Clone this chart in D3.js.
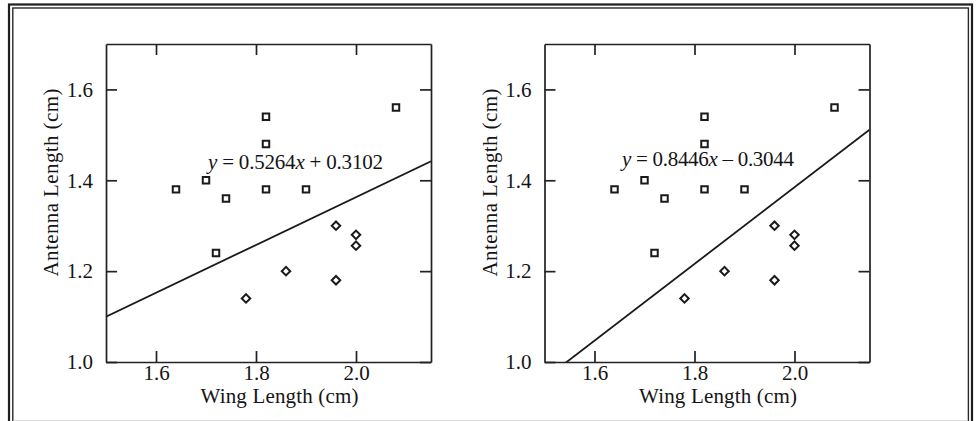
<!DOCTYPE html>
<html>
<head>
<meta charset="utf-8">
<script src="https://cdn.jsdelivr.net/npm/d3@7"></script>
<style>
body { margin: 0; background: #fff; }
text { font-family: "Liberation Serif", "Times New Roman", serif; fill: #151515; }
</style>
</head>
<body>
<svg id="chart"></svg>
<script>
// data
var squareWing    = [1.64, 1.70, 1.72, 1.74, 1.82, 1.82, 1.82, 1.90, 2.08];
var squareAntenna = [1.38, 1.40, 1.24, 1.36, 1.54, 1.48, 1.38, 1.38, 1.56];
var diamondWing    = [1.78, 1.86, 1.96, 1.96, 2.00, 2.00];
var diamondAntenna = [1.14, 1.20, 1.30, 1.18, 1.28, 1.256];
var slopes     = [0.5264, 0.8446];
var intercepts = [0.3102, -0.3044];
var xTicks = [1.6, 1.8, 2.0];
var yTicks = [1.0, 1.2, 1.4, 1.6];
var xTitle = "Wing Length (cm)";
var yTitle = "Antenna Length (cm)";

var width = 977, height = 421;
var ink = "#222";

var svg = d3.select("#chart")
	.attr("width", width)
	.attr("height", height);

// double frame round the figure (cut off at the bottom)
svg.append("rect")
	.attr("x", 9).attr("y", 4.5).attr("width", 963).attr("height", 470)
	.attr("fill", "none").attr("stroke", "#1e1e1e").attr("stroke-width", 2.2);
svg.append("rect")
	.attr("x", 12.8).attr("y", 8).attr("width", 955.6).attr("height", 470)
	.attr("fill", "none").attr("stroke", "#2a2a2a").attr("stroke-width", 1.4);
svg.append("line")
	.attr("x1", 13.5).attr("x2", 967.5).attr("y1", 420.5).attr("y2", 420.5)
	.attr("stroke", "#dcdcdc").attr("stroke-width", 1);

var squares = squareWing.map(function(w, i) { return {wing: w, antenna: squareAntenna[i]}; });
var diamonds = diamondWing.map(function(w, i) { return {wing: w, antenna: diamondAntenna[i]}; });

var panels = [
	{left: 106, eqX: 1.704, eqY: 1.424, eqLen: 175},
	{left: 544.5, eqX: 1.655, eqY: 1.432, eqLen: 172}
];
var plotW = 325, plotTop = 44, plotBottom = 362;

panels.forEach(function(p, k) {
	var x = d3.scaleLinear().domain([1.5, 2.15]).range([p.left, p.left + plotW]);
	var y = d3.scaleLinear().domain([1.0, 1.7]).range([plotBottom, plotTop]);
	var g = svg.append("g");

	g.append("clipPath").attr("id", "clip" + k)
		.append("rect")
			.attr("x", p.left).attr("y", plotTop)
			.attr("width", plotW).attr("height", plotBottom - plotTop);

	// axes, ticks point inward on all four sides
	var axes = [
		g.append("g").attr("transform", "translate(0," + plotBottom + ")")
			.call(d3.axisBottom(x).tickValues(xTicks).tickFormat(d3.format(".1f")).tickSizeInner(-11).tickSizeOuter(0).tickPadding(3)),
		g.append("g").attr("transform", "translate(0," + plotTop + ")")
			.call(d3.axisTop(x).tickValues(xTicks).tickFormat("").tickSizeInner(-11).tickSizeOuter(0)),
		g.append("g").attr("transform", "translate(" + p.left + ",0)")
			.call(d3.axisLeft(y).tickValues(yTicks).tickFormat(d3.format(".1f")).tickSizeInner(-11).tickSizeOuter(0).tickPadding(13)),
		g.append("g").attr("transform", "translate(" + (p.left + plotW) + ",0)")
			.call(d3.axisRight(y).tickValues(yTicks).tickFormat("").tickSizeInner(-11).tickSizeOuter(0))
	];
	axes.forEach(function(a) {
		a.attr("font-family", null).attr("font-size", null);
		a.select(".domain").attr("stroke", ink).attr("stroke-width", 1.7);
		a.selectAll(".tick line").attr("stroke", ink).attr("stroke-width", 1.7);
		a.selectAll(".tick text").attr("fill", "#151515").style("font-size", "21px");
	});

	// regression line
	g.append("line")
		.attr("clip-path", "url(#clip" + k + ")")
		.attr("x1", x(1.5)).attr("y1", y(slopes[k] * 1.5 + intercepts[k]))
		.attr("x2", x(2.15)).attr("y2", y(slopes[k] * 2.15 + intercepts[k]))
		.attr("stroke", "#1a1a1a").attr("stroke-width", 1.8);

	// markers
	g.selectAll("path.sq")
		.data(squares)
		.enter()
			.append("path")
				.attr("class", "sq")
				.attr("d", d3.symbol().type(d3.symbolSquare).size(42))
				.attr("transform", function(d) { return "translate(" + x(d.wing) + "," + y(d.antenna) + ")"; })
				.attr("fill", "#fff").attr("stroke", "#1a1a1a").attr("stroke-width", 2);

	g.selectAll("path.dm")
		.data(diamonds)
		.enter()
			.append("path")
				.attr("class", "dm")
				.attr("d", d3.symbol().type(d3.symbolSquare).size(36))
				.attr("transform", function(d) { return "translate(" + x(d.wing) + "," + y(d.antenna) + ") rotate(45)"; })
				.attr("fill", "#fff").attr("stroke", "#1a1a1a").attr("stroke-width", 2);

	// equation
	var b = intercepts[k];
	var eq = g.append("text")
		.attr("x", x(p.eqX)).attr("y", y(p.eqY))
		.attr("textLength", p.eqLen).attr("lengthAdjust", "spacing")
		.style("font-size", "21px");
	eq.append("tspan").style("font-style", "italic").text("y");
	eq.append("tspan").text(" = " + slopes[k].toFixed(4));
	eq.append("tspan").style("font-style", "italic").text("x");
	eq.append("tspan").text((b < 0 ? " \u2013 " : " + ") + Math.abs(b).toFixed(4));

	// axis titles
	g.append("text")
		.attr("x", p.left + plotW / 2 + 11).attr("y", 403)
		.attr("text-anchor", "middle")
		.attr("textLength", 158).attr("lengthAdjust", "spacing")
		.style("font-size", "21px")
		.text(xTitle);

	g.append("text")
		.attr("transform", "translate(" + (p.left - 48) + ",182.5) rotate(-90)")
		.attr("text-anchor", "middle")
		.attr("textLength", 188).attr("lengthAdjust", "spacing")
		.style("font-size", "21px")
		.text(yTitle);
});
</script>
</body>
</html>
